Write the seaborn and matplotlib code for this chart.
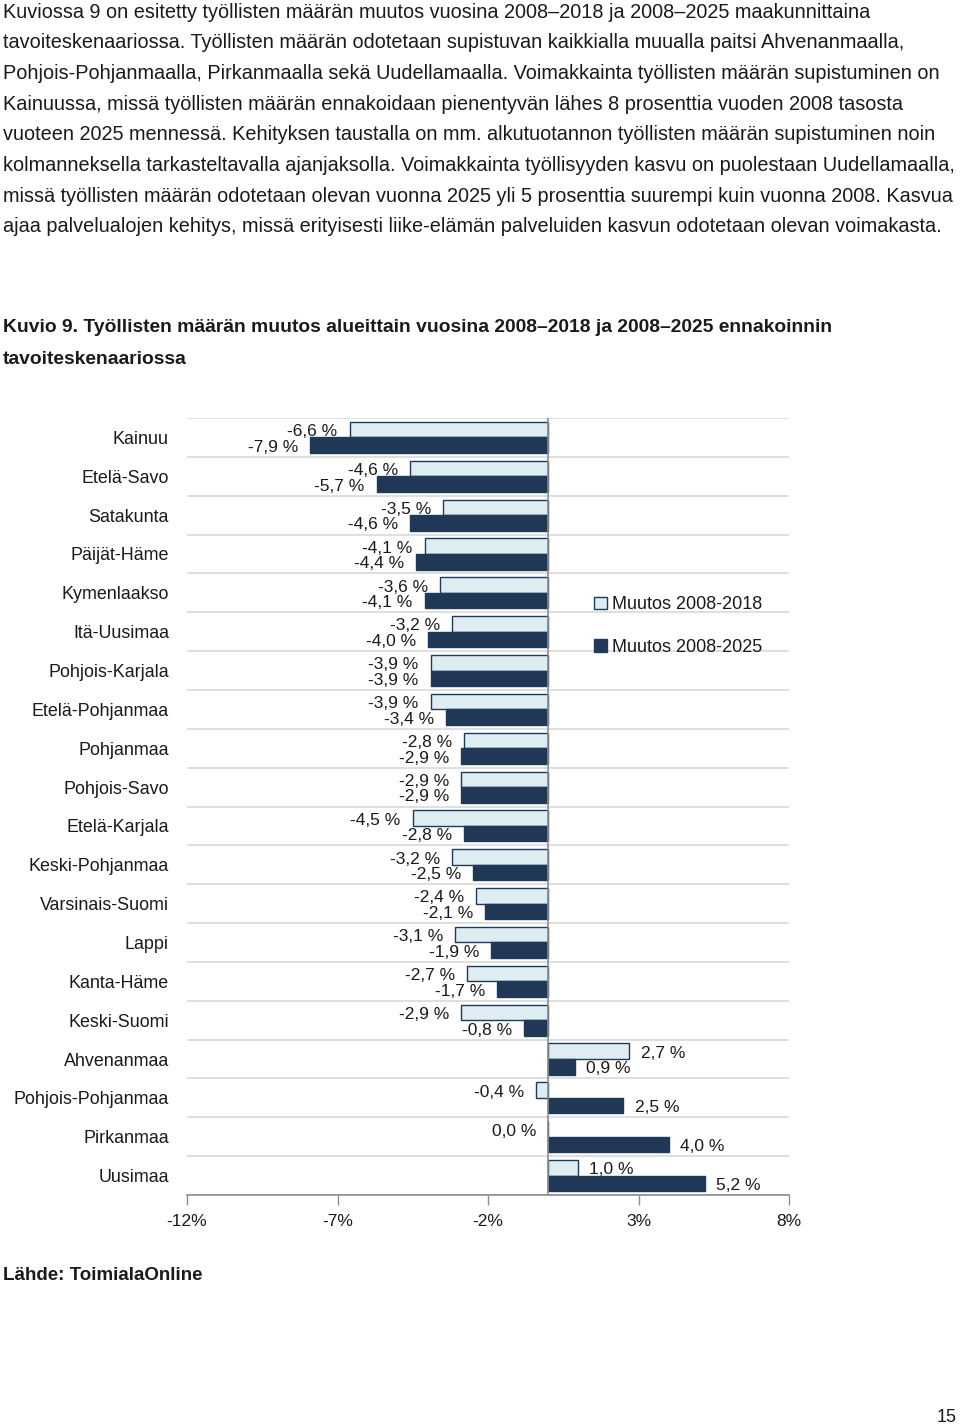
import numpy as np
import pandas as pd
import matplotlib
matplotlib.use("Agg")
import matplotlib.pyplot as plt
import seaborn as sns

regions = ["Kainuu", "Etelä-Savo", "Satakunta", "Päijät-Häme", "Kymenlaakso",
           "Itä-Uusimaa", "Pohjois-Karjala", "Etelä-Pohjanmaa", "Pohjanmaa",
           "Pohjois-Savo", "Etelä-Karjala", "Keski-Pohjanmaa", "Varsinais-Suomi",
           "Lappi", "Kanta-Häme", "Keski-Suomi", "Ahvenanmaa",
           "Pohjois-Pohjanmaa", "Pirkanmaa", "Uusimaa"]
muutos_2018 = [-6.6, -4.6, -3.5, -4.1, -3.6, -3.2, -3.9, -3.9, -2.8, -2.9,
               -4.5, -3.2, -2.4, -3.1, -2.7, -2.9, 2.7, -0.4, 0.0, 1.0]
muutos_2025 = [-7.9, -5.7, -4.6, -4.4, -4.1, -4.0, -3.9, -3.4, -2.9, -2.9,
               -2.8, -2.5, -2.1, -1.9, -1.7, -0.8, 0.9, 2.5, 4.0, 5.2]
series = ["Muutos 2008-2018", "Muutos 2008-2025"]
x_ticks = [-12, -7, -2, 3, 8]
x_ticklabels = ["-12%", "-7%", "-2%", "3%", "8%"]

paragraph = [
    "Kuviossa 9 on esitetty työllisten määrän muutos vuosina 2008–2018 ja 2008–2025 maakunnittaina",
    "tavoiteskenaariossa. Työllisten määrän odotetaan supistuvan kaikkialla muualla paitsi Ahvenanmaalla,",
    "Pohjois-Pohjanmaalla, Pirkanmaalla sekä Uudellamaalla. Voimakkainta työllisten määrän supistuminen on",
    "Kainuussa, missä työllisten määrän ennakoidaan pienentyvän lähes 8 prosenttia vuoden 2008 tasosta",
    "vuoteen 2025 mennessä. Kehityksen taustalla on mm. alkutuotannon työllisten määrän supistuminen noin",
    "kolmanneksella tarkasteltavalla ajanjaksolla. Voimakkainta työllisyyden kasvu on puolestaan Uudellamaalla,",
    "missä työllisten määrän odotetaan olevan vuonna 2025 yli 5 prosenttia suurempi kuin vuonna 2008. Kasvua",
    "ajaa palvelualojen kehitys, missä erityisesti liike-elämän palveluiden kasvun odotetaan olevan voimakasta.",
]
title_lines = ["Kuvio 9. Työllisten määrän muutos alueittain vuosina 2008–2018 ja 2008–2025 ennakoinnin",
               "tavoiteskenaariossa"]
source = "Lähde: ToimialaOnline"

sns.set_theme(style="white")
plt.rcParams["font.family"] = ["Liberation Sans", "DejaVu Sans"]

LIGHT = "#DBEEF5"
DARK = "#17375E"
EDGE = "#1F3A5F"
TXT = "#1a1a1a"

df = pd.DataFrame({
    "Alue": regions * 2,
    "Muutos": muutos_2018 + muutos_2025,
    "Sarja": [series[0]] * len(regions) + [series[1]] * len(regions),
})

W, H = 960, 1425
fig = plt.figure(figsize=(W / 100, H / 100), dpi=100)

# Text above the chart
for i, line in enumerate(paragraph):
    yc = 10 + i * 30.7
    fig.text(0.003, 1 - yc / H, line, fontsize=14.28, color=TXT,
             va="center_baseline", ha="left")
for i, line in enumerate(title_lines):
    yc = 326 + i * 31
    fig.text(0.003, 1 - yc / H, line, fontsize=13.85, color=TXT, weight="bold",
             va="center_baseline", ha="left")
fig.text(0.003, 1 - 1273 / H, source, fontsize=13.5, color=TXT, weight="bold",
         va="center_baseline", ha="left")
fig.text(957 / W, 1 - 1416 / H, "15", fontsize=13, color=TXT,
         va="center_baseline", ha="right")

left, right, top, bottom = 187, 789, 418, 1195
ax = fig.add_axes([left / W, 1 - bottom / H, (right - left) / W, (bottom - top) / H])

sns.barplot(data=df, y="Alue", x="Muutos", hue="Sarja", orient="h",
            palette={series[0]: LIGHT, series[1]: DARK}, hue_order=series,
            order=regions, width=0.8, edgecolor=EDGE, linewidth=1.0,
            errorbar=None, ax=ax)

ax.set_xlim(-12, 8)
ax.set_ylim(len(regions) - 0.5, -0.5)
ax.set_xticks(x_ticks)
ax.set_xticklabels(x_ticklabels, fontsize=12.5, color=TXT)
ax.set_xlabel("")
ax.set_ylabel("")
ax.tick_params(axis="y", length=0, pad=13, labelsize=12.9, labelcolor=TXT)
ax.tick_params(axis="x", length=7, width=1, color="#8c8c8c", direction="out",
               pad=7, bottom=True)
for s in ["left", "right", "top"]:
    ax.spines[s].set_visible(False)
ax.spines["bottom"].set_color("#8c8c8c")
ax.spines["bottom"].set_linewidth(1.2)

ax.set_yticks(np.arange(-0.5, len(regions)), minor=True)
ax.tick_params(axis="y", which="minor", length=0)
ax.grid(which="minor", axis="y", color="#d9d9d9", linewidth=1.2)
ax.grid(which="major", axis="both", visible=False)
ax.set_axisbelow(True)
ax.axvline(0, color="#8c8c8c", linewidth=1.2, zorder=3)

for cont, vals in zip(ax.containers, [muutos_2018, muutos_2025]):
    for patch, v in zip(cont.patches, vals):
        yc = patch.get_y() + patch.get_height() / 2
        lab = f"{v:.1f} %".replace(".", ",")
        if v > 0:
            ax.annotate(lab, (v, yc), xytext=(8, -1.5), textcoords="offset points",
                        ha="left", va="center", fontsize=12.5, color=TXT)
        else:
            ax.annotate(lab, (v, yc), xytext=(-8.7, -1.5), textcoords="offset points",
                        ha="right", va="center", fontsize=12.5, color=TXT)

leg = ax.legend(loc="upper left", bbox_to_anchor=(578 / W, 1 - 580 / H),
                bbox_transform=fig.transFigure, frameon=False, fontsize=13,
                handlelength=0.7, handleheight=0.7, handletextpad=0.3,
                labelspacing=1.4)
for t in leg.get_texts():
    t.set_color(TXT)

fig.savefig("out.png", dpi=100)
